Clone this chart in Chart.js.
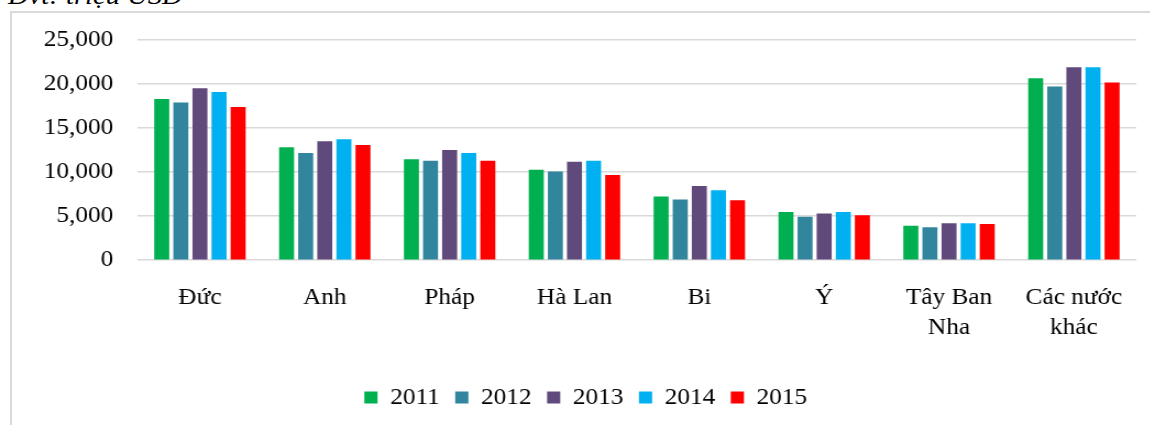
<!DOCTYPE html>
<html>
<head>
<meta charset="utf-8">
<script src="https://cdn.jsdelivr.net/npm/chart.js@4"></script>
<style>
  html, body { margin: 0; padding: 0; background: #fff; overflow: hidden; }
  body { width: 1150px; height: 425px; position: relative; }
  #unit {
    position: absolute; left: 8px; top: -19px;
    font: italic 26px "Liberation Serif", serif; color: #000;
    white-space: nowrap; transform: scaleX(1.1); transform-origin: left top;
  }
  #frame {
    position: absolute; left: 10px; top: 11px; right: 0; bottom: 0;
    border-left: 2px solid #d9d9d9; border-top: 2px solid #d9d9d9;
  }
  #wrap {
    position: absolute; left: 0; top: 0; width: 1046px; height: 425px;
    transform: scaleX(1.1); transform-origin: left top;
  }
</style>
</head>
<body>
<div id="unit">Đvt: triệu USD</div>
<div id="frame"></div>
<div id="wrap"><canvas id="chart" width="1046" height="425"></canvas></div>
<script>
// Kim ngạch theo thị trường (triệu USD)
const countries = ['Đức', 'Anh', 'Pháp', 'Hà Lan', 'Bi', 'Ý', ['Tây Ban', 'Nha'], ['Các nước', 'khác']];
const years = ['2011', '2012', '2013', '2014', '2015'];
const v2011 = [18300, 12820, 11450, 10270, 7230, 5480, 3920, 20660];
const v2012 = [17890, 12180, 11300, 10080, 6880, 4940, 3730, 19710];
const v2013 = [19520, 13500, 12520, 11190, 8410, 5290, 4190, 21920];
const v2014 = [19100, 13730, 12180, 11300, 7950, 5480, 4190, 21920];
const v2015 = [17390, 13090, 11300, 9670, 6810, 5100, 4110, 20170];
const colors = ['#00B050', '#31859C', '#604A7B', '#00B0F0', '#FF0000'];

const serif = '"Liberation Serif", "Times New Roman", serif';
const series = [v2011, v2012, v2013, v2014, v2015];

new Chart(document.getElementById('chart').getContext('2d'), {
    type: 'bar',
    data: {
        labels: countries,
        datasets: series.map((vals, i) => ({
            label: years[i],
            data: vals,
            backgroundColor: colors[i],
            borderWidth: 0,
            categoryPercentage: 0.765,
            barPercentage: 0.786
        }))
    },
    options: {
        responsive: false,
        animation: false,
        devicePixelRatio: 1,
        layout: { padding: { left: 32, right: 13, top: 40, bottom: 6 } },
        plugins: {
            tooltip: { enabled: false },
            legend: {
                position: 'bottom',
                labels: {
                    boxWidth: 12,
                    boxHeight: 12,
                    padding: 14,
                    color: '#000',
                    font: { family: serif, size: 23 }
                }
            }
        },
        scales: {
            x: {
                afterFit: function(scale) { scale.height += 14; },
                grid: { display: false },
                border: { display: false },
                ticks: {
                    color: '#000',
                    padding: 15,
                    maxRotation: 0,
                    autoSkip: false,
                    font: { family: serif, size: 23, lineHeight: 1.3 }
                }
            },
            y: {
                min: 0,
                max: 25000,
                afterFit: function(scale) { scale.width = 93; },
                grid: { color: '#d9d9d9', lineWidth: 1.5, drawTicks: false },
                border: { display: false },
                ticks: {
                    stepSize: 5000,
                    color: '#000',
                    padding: 22,
                    font: { family: serif, size: 23 },
                    callback: v => v.toLocaleString('en-US')
                }
            }
        }
    }
});
</script>
</body>
</html>
